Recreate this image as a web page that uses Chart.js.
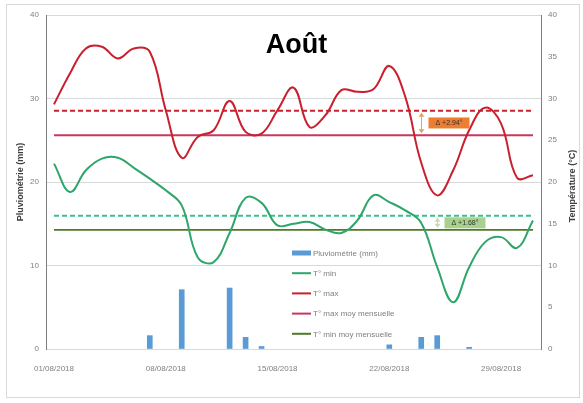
<!DOCTYPE html>
<html>
<head>
<meta charset="utf-8">
<script src="https://cdn.jsdelivr.net/npm/chart.js@4.4.0/dist/chart.umd.min.js"></script>
<style>
  html, body { margin: 0; padding: 0; background: #fff; }
  #wrap { width: 583px; height: 403px; }
</style>
</head>
<body>
<div id="wrap"><canvas id="meteoChart" width="583" height="403"></canvas></div>
<script>
// dates du mois
var jours = ['01/08/2018','02/08/2018','03/08/2018','04/08/2018','05/08/2018','06/08/2018','07/08/2018',
             '08/08/2018','09/08/2018','10/08/2018','11/08/2018','12/08/2018','13/08/2018','14/08/2018',
             '15/08/2018','16/08/2018','17/08/2018','18/08/2018','19/08/2018','20/08/2018','21/08/2018',
             '22/08/2018','23/08/2018','24/08/2018','25/08/2018','26/08/2018','27/08/2018','28/08/2018',
             '29/08/2018','30/08/2018','31/08/2018'];

// null = pas de pluie ce jour-la
var pluie = [null, null, null, null, null, null, 1.6, null, 7.1, null, null, 7.3, 1.4, 0.3, null, null,
             null, null, null, null, null, 0.5, null, 1.4, 1.6, null, 0.2, null, null, null, null];

var tMax = [29.3, 33.0, 36.0, 36.2, 34.8, 36.0, 35.6, 28.6, 22.9, 25.4, 26.2, 29.7, 26.0, 25.8, 28.6, 31.3,
            26.6, 28.0, 31.0, 30.8, 31.1, 33.9, 30.2, 22.3, 18.4, 21.4, 26.2, 28.9, 27.0, 20.5, 20.8];

var tMin = [22.2, 18.8, 21.4, 22.8, 22.9, 21.7, 20.4, 19.0, 17.2, 11.0, 10.4, 13.9, 18.1, 17.5, 14.8, 15.0,
            15.2, 14.3, 13.9, 15.4, 18.4, 17.6, 16.6, 15.1, 9.8, 5.6, 9.8, 12.8, 13.4, 12.1, 15.4];

// moyennes : mois en cours (pointilles) et moyennes mensuelles
var tMaxMoisMoy = [28.54];
var tMaxMoyMensuelle = [25.60];
var tMinMoisMoy = [15.95];
var tMinMoyMensuelle = [14.27];

var ecarts = ['\u0394 +2.94\u00b0', '\u0394 +1.68\u00b0'];
var ticksGauche = [0, 10, 20, 30, 40];
var ticksDroite = [0, 5, 10, 15, 20, 25, 30, 35, 40];

var police = 'Liberation Sans, Arial, sans-serif';

function ligneMoy(v) {
    return [{x: jours[0], y: v}, {x: jours[jours.length - 1], y: v}];
}

// titre, legende et annotations dessinees a la main
var decor = {
    id: 'decor',
    beforeDraw: function(chart) {
        var c = chart.ctx;
        c.save();
        c.fillStyle = '#fff';
        c.fillRect(0, 0, chart.width, chart.height);
        c.strokeStyle = '#D9D9D9';
        c.lineWidth = 1;
        c.strokeRect(6.5, 4.5, 573, 393);
        c.restore();
    },
    afterDraw: function(chart) {
        var c = chart.ctx;
        var xs = chart.scales.x, yd = chart.scales.y2;
        var area = chart.chartArea;
        c.save();

        c.fillStyle = '#000';
        c.font = 'bold 27px ' + police;
        c.textAlign = 'center';
        c.textBaseline = 'alphabetic';
        c.fillText('Ao\u00fbt', (area.left + area.right) / 2 + 3, 53);

        // titre axe droit, lu de bas en haut comme a gauche
        c.save();
        c.translate(yd.right - 10, (area.top + area.bottom) / 2 + 4);
        c.rotate(-Math.PI / 2);
        c.fillStyle = '#404040';
        c.font = 'bold 9px ' + police;
        c.textAlign = 'center';
        c.textBaseline = 'middle';
        c.fillText('Temp\u00e9rature (\u00b0C)', 0, 0);
        c.restore();

        // fleches + boites d'ecart
        var notes = [
            {idx: 23, haut: tMaxMoisMoy[0], bas: tMaxMoyMensuelle[0], fond: '#ED7D31', fleche: '#E2A45E', txt: ecarts[0], dx: 7},
            {idx: 24, haut: tMinMoisMoy[0], bas: tMinMoyMensuelle[0], fond: '#A9D18E', fleche: '#C5D9BA', txt: ecarts[1], dx: 7}
        ];
        notes.forEach(function(n) {
            var x = Math.round(xs.getPixelForValue(n.idx)) + 0.5;
            var y1 = yd.getPixelForValue(n.haut) + 2;
            var y2 = yd.getPixelForValue(n.bas) - 2;
            c.strokeStyle = n.fleche;
            c.fillStyle = n.fleche;
            c.lineWidth = 1;
            c.beginPath();
            c.moveTo(x, y1 + 3); c.lineTo(x, y2 - 3);
            c.stroke();
            c.beginPath();
            c.moveTo(x, y1); c.lineTo(x - 3, y1 + 4); c.lineTo(x + 3, y1 + 4); c.closePath(); c.fill();
            c.beginPath();
            c.moveTo(x, y2); c.lineTo(x - 3, y2 - 4); c.lineTo(x + 3, y2 - 4); c.closePath(); c.fill();
            var ym = yd.getPixelForValue((n.haut + n.bas) / 2);
            c.fillStyle = n.fond;
            c.fillRect(x + n.dx, ym - 5.5, 41, 11);
            c.fillStyle = '#333';
            c.font = '7px ' + police;
            c.textAlign = 'center';
            c.textBaseline = 'middle';
            c.fillText(n.txt, x + n.dx + 20.5, ym + 0.5);
        });

        // legende
        var lx = 292, ly = 253;
        var entrees = chart.data.datasets.filter(function(ds) { return ds.enLegende; })
            .sort(function(a, b) { return a.rang - b.rang; });
        entrees.forEach(function(ds) {
            if (ds.type === 'bar') {
                c.fillStyle = ds.backgroundColor;
                c.fillRect(lx, ly - 2.5, 19, 5);
            } else {
                c.strokeStyle = ds.borderColor;
                c.lineWidth = 2;
                c.beginPath();
                c.moveTo(lx, ly); c.lineTo(lx + 19, ly);
                c.stroke();
            }
            c.fillStyle = '#7F7F7F';
            c.font = '8px ' + police;
            c.textAlign = 'left';
            c.textBaseline = 'middle';
            c.fillText(ds.label, lx + 21, ly + 0.5);
            ly += 20.2;
        });
        c.restore();
    }
};

var ctx = document.getElementById('meteoChart');
var graph = new Chart(ctx, {
    data: {
        labels: jours,
        datasets: [
            { type: 'line', label: 'T\u00b0 max (moyenne du mois)', data: ligneMoy(tMaxMoisMoy[0]), yAxisID: 'y2',
              borderColor: '#C8202F', borderWidth: 2, borderDash: [5, 3], pointRadius: 0, order: 5 },
            { type: 'line', label: 'T\u00b0 min (moyenne du mois)', data: ligneMoy(tMinMoisMoy[0]), yAxisID: 'y2',
              borderColor: '#3DBF8A', borderWidth: 2, borderDash: [5, 3], pointRadius: 0, order: 5 },
            { type: 'line', label: 'T\u00b0 max moy mensuelle', data: ligneMoy(tMaxMoyMensuelle[0]), yAxisID: 'y2',
              borderColor: '#C43A5E', borderWidth: 1.8, pointRadius: 0, order: 4, enLegende: true, rang: 4 },
            { type: 'line', label: 'T\u00b0 min moy mensuelle', data: ligneMoy(tMinMoyMensuelle[0]), yAxisID: 'y2',
              borderColor: '#4E7A2A', borderWidth: 1.8, pointRadius: 0, order: 4, enLegende: true, rang: 5 },
            { type: 'line', label: 'T\u00b0 min', data: tMin, yAxisID: 'y2',
              borderColor: '#2EA56B', borderWidth: 2, tension: 0.4, pointRadius: 0, order: 2, enLegende: true, rang: 2 },
            { type: 'line', label: 'T\u00b0 max', data: tMax, yAxisID: 'y2',
              borderColor: '#C8202F', borderWidth: 2, tension: 0.4, pointRadius: 0, order: 1, enLegende: true, rang: 3 },
            { type: 'bar', label: 'Pluviom\u00e9trie (mm)', data: pluie, yAxisID: 'y',
              backgroundColor: '#5B9BD5', barThickness: 5, order: 10, enLegende: true, rang: 1 }
        ]
    },
    options: {
        responsive: false,
        animation: false,
        layout: { padding: { top: 15, left: 0, right: 0, bottom: 0 } },
        plugins: { legend: { display: false }, tooltip: { enabled: false } },
        scales: {
            x: {
                type: 'category',
                offset: true,
                grid: { display: false },
                border: { color: '#D9D9D9' },
                ticks: {
                    autoSkip: false, maxRotation: 0, padding: 7,
                    color: '#7F7F7F', font: { family: police, size: 8 },
                    callback: function(v, i) { return i % 7 === 0 ? jours[i] : ''; }
                },
                afterFit: function(s) { s.height = 54; }
            },
            y: {
                position: 'left', min: 0, max: 40,
                afterBuildTicks: function(s) { s.ticks = ticksGauche.map(function(v) { return {value: v}; }); },
                grid: { color: '#D9D9D9', drawTicks: false },
                border: { color: '#7F7F7F', width: 1 },
                ticks: { padding: 7, color: '#7F7F7F', font: { family: police, size: 8 } },
                title: { display: true, text: 'Pluviom\u00e9trie (mm)', color: '#404040',
                         font: { family: police, size: 9, weight: 'bold' }, padding: { top: 15, bottom: 0 } },
                afterFit: function(s) { s.width = 46; }
            },
            y2: {
                position: 'right', min: 0, max: 40,
                afterBuildTicks: function(s) { s.ticks = ticksDroite.map(function(v) { return {value: v}; }); },
                grid: { display: false, drawTicks: false },
                border: { color: '#7F7F7F', width: 1 },
                ticks: { padding: 7, color: '#7F7F7F', font: { family: police, size: 8 } },
                afterFit: function(s) { s.width = 42; }
            }
        }
    },
    plugins: [decor]
});
</script>
</body>
</html>
